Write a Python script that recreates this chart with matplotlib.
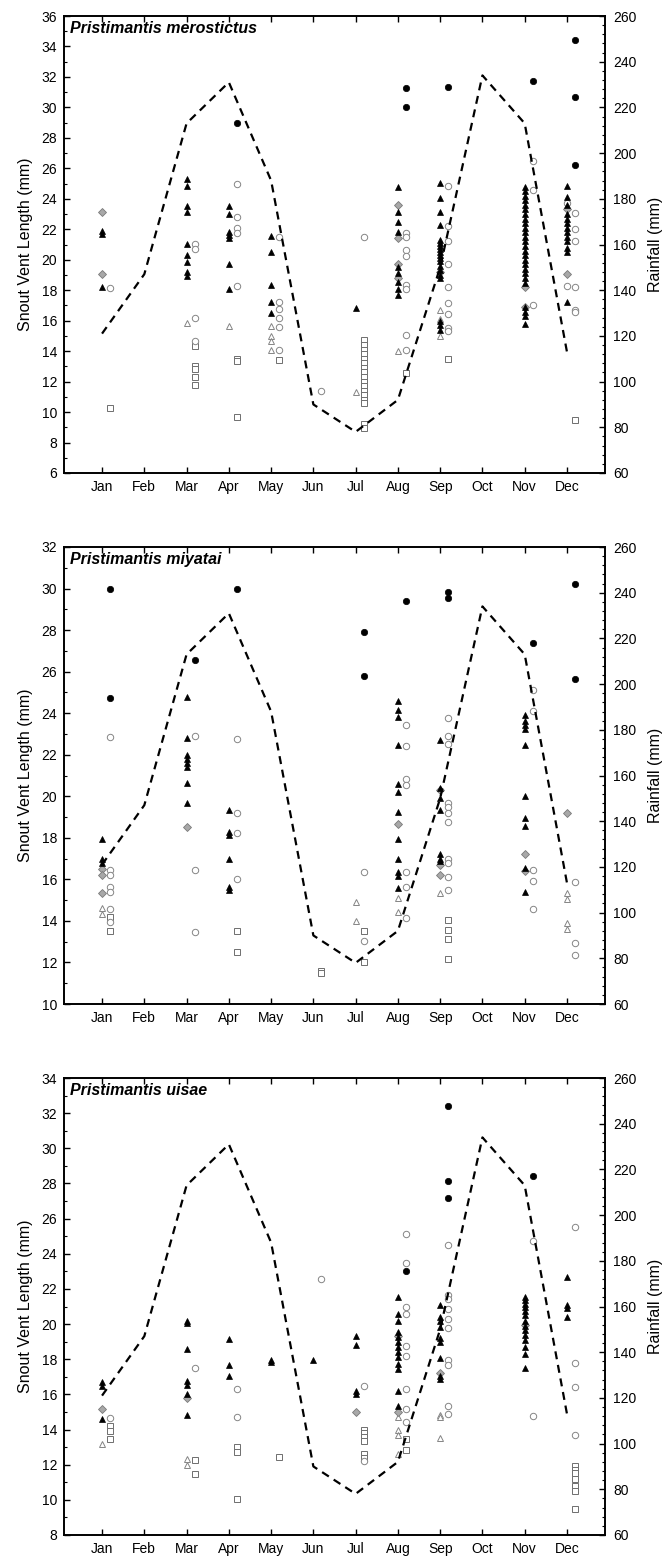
import numpy as np
import matplotlib.pyplot as plt
from matplotlib.ticker import MultipleLocator

plt.rcParams["font.family"] = ["Liberation Sans", "DejaVu Sans"]

# ======================================
# DATA
# ======================================

months = ["Jan", "Feb", "Mar", "Apr", "May", "Jun",
          "Jul", "Aug", "Sep", "Oct", "Nov", "Dec"]

# monthly rainfall (mm), same for all three panels
rain = [121, 147, 213, 231, 188, 90, 78, 92, 150, 234, 213, 113]

# ---- Pristimantis merostictus ----
mer_circle_f = {"Apr": [28.95], "Aug": [31.25, 30.0], "Sep": [31.35],
                "Nov": [31.75], "Dec": [34.4, 30.65, 26.25]}
mer_tri_f = {
    "Jan": [21.9, 21.7, 18.2],
    "Mar": [25.3, 24.85, 23.5, 23.15, 21.05, 20.3, 19.85, 19.2, 18.9],
    "Apr": [23.5, 23.0, 21.85, 21.6, 21.4, 19.7, 18.1],
    "May": [21.55, 20.5, 18.35, 17.25, 16.5],
    "Jul": [16.8],
    "Aug": [24.75, 23.15, 22.5, 21.85, 19.55, 19.1, 18.55, 18.1, 17.7],
    "Sep": [25.05, 24.05, 23.15, 22.3, 21.3, 21.1, 20.9, 20.7, 20.5, 20.3,
            20.1, 19.9, 19.6, 19.3, 19.0, 18.8, 16.0, 15.7, 15.4],
    "Nov": [24.8, 24.5, 24.2, 23.9, 23.6, 23.3, 23.0, 22.7, 22.4, 22.1,
            21.8, 21.5, 21.2, 20.9, 20.6, 20.3, 20.0, 19.7, 19.4, 19.1,
            18.8, 18.5, 16.9, 16.6, 16.3, 15.8],
    "Dec": [24.85, 24.15, 23.6, 23.0, 22.7, 22.4, 22.1, 21.8, 21.5, 21.2,
            20.8, 20.5, 17.2],
}
mer_diamond = {"Jan": [23.15, 19.05], "Aug": [23.6, 21.4, 19.75, 18.8],
               "Sep": [19.2], "Nov": [18.2, 16.9], "Dec": [23.3, 19.05]}
mer_circle_o = {
    "Jan": [18.15],
    "Mar": [21.05, 20.7, 16.15, 14.65],
    "Apr": [25.0, 22.8, 22.1, 21.75, 18.25],
    "May": [21.5, 17.25, 16.75, 16.15, 15.6, 14.05],
    "Jun": [11.4],
    "Jul": [21.5],
    "Aug": [21.75, 21.5, 20.65, 20.25, 18.35, 18.1, 15.05, 14.05],
    "Sep": [24.85, 22.2, 21.2, 19.75, 18.2, 17.15, 16.45, 15.5, 15.3],
    "Nov": [26.5, 24.55, 17.0],
    "Dec": [23.05, 22.0, 21.2, 18.2, 16.7, 16.55],
}
mer_circle_o_left = {"Dec": [23.75, 18.3]}
mer_tri_o = {"Mar": [15.85], "Apr": [15.65], "May": [15.65, 15.0, 14.65, 14.05],
             "Jul": [11.35], "Aug": [14.0], "Sep": [16.7, 16.1, 15.0]}
mer_square = {
    "Jan": [10.25],
    "Mar": [14.35, 13.0, 12.85, 12.3, 11.75],
    "Apr": [13.5, 13.35, 9.65],
    "May": [13.4],
    "Jul": [14.7, 14.4, 14.1, 13.8, 13.5, 13.2, 12.9, 12.6, 12.3, 12.0,
            11.7, 11.4, 11.1, 10.8, 10.6, 9.2, 8.95],
    "Aug": [12.55],
    "Sep": [13.5],
    "Dec": [9.5],
}

# ---- Pristimantis miyatai ----
miy_circle_f = {"Jan": [30.0, 24.75], "Mar": [26.55], "Apr": [30.0],
                "Jul": [27.9, 25.8], "Aug": [29.4], "Sep": [29.85, 29.55],
                "Nov": [27.4], "Dec": [30.2, 25.65]}
miy_tri_f = {
    "Jan": [17.95, 17.0, 16.8],
    "Mar": [24.8, 22.8, 22.0, 21.8, 21.6, 21.4, 20.65, 19.7],
    "Apr": [19.35, 18.3, 18.15, 17.0, 15.65, 15.5],
    "Aug": [24.6, 24.15, 23.8, 22.45, 20.6, 20.2, 19.25, 17.95, 17.0,
            16.35, 16.15, 15.6],
    "Sep": [22.7, 20.4, 19.9, 19.35, 17.2, 17.0, 16.9],
    "Nov": [23.9, 23.6, 23.45, 23.25, 22.45, 20.0, 18.95, 18.55, 16.55, 15.4],
}
miy_diamond = {"Jan": [16.5, 16.2, 15.35], "Mar": [18.5], "Aug": [18.65],
               "Sep": [20.3, 16.7, 16.2], "Nov": [17.2, 16.4], "Dec": [19.2]}
miy_circle_o = {
    "Jan": [22.85, 16.45, 16.2, 15.65, 15.4, 14.55, 13.95],
    "Mar": [22.9, 16.45, 13.45],
    "Apr": [22.75, 19.2, 18.25, 16.0],
    "Jul": [16.35, 13.05],
    "Aug": [23.45, 22.4, 20.85, 20.55, 16.35, 15.65, 14.15],
    "Sep": [23.75, 22.9, 22.5, 19.7, 19.5, 19.2, 18.75, 17.0, 16.8, 16.1, 15.5],
    "Nov": [25.1, 24.1, 16.45, 15.9, 14.55],
    "Dec": [15.85, 12.95, 12.35],
}
miy_circle_o_left = {}
miy_tri_o = {"Jan": [14.6, 14.35], "Jul": [14.9, 14.0], "Aug": [15.1, 14.45],
             "Sep": [15.35], "Dec": [15.35, 15.05, 13.9, 13.6]}
miy_square = {"Jan": [13.5, 14.2], "Apr": [13.5, 12.5], "Jun": [11.6, 11.5],
              "Jul": [13.5, 12.0], "Sep": [14.05, 13.55, 13.15, 12.15]}

# ---- Pristimantis uisae ----
uis_circle_f = {"Aug": [23.0], "Sep": [32.4, 28.15, 27.2], "Nov": [28.45]}
uis_tri_f = {
    "Jan": [16.7, 16.5, 14.6],
    "Mar": [20.2, 20.05, 18.6, 16.75, 16.55, 16.0, 14.85],
    "Apr": [19.15, 17.7, 17.05],
    "May": [17.95, 17.85],
    "Jun": [17.95],
    "Jul": [19.35, 18.8, 16.2, 16.0],
    "Aug": [21.55, 20.6, 20.15, 19.55, 19.25, 19.0, 18.7, 18.4, 18.1, 17.75,
            17.45, 16.2, 15.35],
    "Sep": [21.1, 20.4, 20.15, 19.85, 19.2, 19.0, 18.05, 17.05, 16.9],
    "Nov": [21.55, 21.35, 21.15, 20.95, 20.75, 20.5, 20.2, 19.9, 19.65,
            19.4, 19.1, 18.7, 18.3, 17.5],
    "Dec": [22.7, 21.1, 20.9, 20.4],
}
uis_diamond = {"Jan": [15.15], "Mar": [15.8], "Jul": [15.0],
               "Aug": [19.3, 15.0], "Sep": [17.2], "Nov": [19.95]}
uis_circle_o = {
    "Jan": [14.65],
    "Mar": [17.5],
    "Apr": [16.3, 14.7],
    "Jun": [22.55],
    "Jul": [16.5, 12.2],
    "Aug": [25.1, 23.5, 21.0, 20.55, 18.75, 18.2, 16.3, 15.15, 14.45],
    "Sep": [24.5, 21.65, 21.45, 20.85, 20.3, 19.75, 17.95, 17.65, 15.35, 14.9],
    "Nov": [24.75, 14.75],
    "Dec": [25.5, 17.8, 16.4, 13.7],
}
uis_circle_o_left = {}
uis_tri_o = {"Jan": [13.2], "Mar": [12.35, 12.0],
             "Aug": [14.7, 14.0, 13.7, 12.6], "Sep": [14.8, 14.7, 13.5]}
uis_square = {
    "Jan": [14.2, 13.9, 13.45],
    "Mar": [12.25, 11.45],
    "Apr": [13.0, 12.75, 10.05],
    "May": [12.45],
    "Jul": [14.0, 13.8, 13.55, 13.35, 12.6, 12.4],
    "Aug": [13.45, 12.85],
    "Dec": [11.9, 11.7, 11.5, 11.2, 10.8, 10.5, 9.5],
}

species = ["Pristimantis merostictus", "Pristimantis miyatai", "Pristimantis uisae"]
svl_limits = [(6, 36), (10, 32), (8, 34)]

panels = [
    (mer_circle_f, mer_tri_f, mer_diamond, mer_circle_o, mer_circle_o_left, mer_tri_o, mer_square),
    (miy_circle_f, miy_tri_f, miy_diamond, miy_circle_o, miy_circle_o_left, miy_tri_o, miy_square),
    (uis_circle_f, uis_tri_f, uis_diamond, uis_circle_o, uis_circle_o_left, uis_tri_o, uis_square),
]


def expand(series):
    x, y = [], []
    for m, vals in series.items():
        for v in vals:
            x.append(months.index(m) + 1)
            y.append(v)
    return np.array(x, dtype=float), np.array(y, dtype=float)


# ======================================
# FIGURE
# ======================================

W, H = 665, 1559
fig = plt.figure(figsize=(W / 100, H / 100), dpi=100)

ax_left, ax_right = 64, 605
tops = [16, 547, 1078]
panel_h = 457

right_off = 0.19
grey = "#858585"

styles = [
    # (marker, size, face, edge, lw, offset)
    ("o", 4.6, "black", "black", 0.5, right_off),
    ("^", 4.8, "black", "black", 0.5, 0.0),
    ("D", 4.2, "#a8a8a8", "#7a7a7a", 0.6, 0.0),
    ("o", 4.6, "white", grey, 0.7, right_off),
    ("o", 4.6, "white", grey, 0.7, 0.0),
    ("^", 4.8, "white", grey, 0.7, 0.0),
    ("s", 4.2, "white", "#6e6e6e", 0.7, right_off),
]
draw_order = [6, 5, 3, 4, 2, 1, 0]

for k in range(3):
    top = tops[k]
    rect = [ax_left / W, 1 - (top + panel_h) / H,
            (ax_right - ax_left) / W, panel_h / H]
    ax = fig.add_axes(rect)
    ax2 = ax.twinx()

    series_list = panels[k]
    for idx in draw_order:
        mk, ms, fc, ec, lw, off = styles[idx]
        x, y = expand(series_list[idx])
        if len(x) == 0:
            continue
        ax.plot(x + off, y, linestyle="none", marker=mk, markersize=ms,
                markerfacecolor=fc, markeredgecolor=ec, markeredgewidth=lw,
                zorder=3)

    ax2.plot(range(1, 13), rain, color="black", linewidth=1.6,
             linestyle=(0, (3.6, 2.6)), zorder=4)

    ax.set_xlim(0.1, 12.9)
    ax.set_xticks(range(1, 13))
    ax.set_xticklabels(months)
    ax.set_ylim(*svl_limits[k])
    ax.yaxis.set_major_locator(MultipleLocator(2))
    ax.yaxis.set_minor_locator(MultipleLocator(1))
    ax.tick_params(axis="both", which="major", direction="in", length=4,
                   width=1.0, labelsize=10, top=True, right=False, pad=5)
    ax.tick_params(axis="y", which="minor", direction="in", length=2,
                   width=0.8, right=False)

    ax2.set_ylim(60, 260)
    ax2.yaxis.set_major_locator(MultipleLocator(20))
    ax2.yaxis.set_minor_locator(MultipleLocator(4))
    ax2.tick_params(axis="y", which="major", direction="in", length=4,
                    width=1.0, labelsize=10, pad=6)
    ax2.tick_params(axis="y", which="minor", direction="in", length=2,
                    width=0.8)

    for a in (ax, ax2):
        for sp in a.spines.values():
            sp.set_linewidth(1.2)

    ax.set_ylabel("Snout Vent Length (mm)", fontsize=11.5, labelpad=6)
    ax2.set_ylabel("Rainfall (mm)", fontsize=11.5, labelpad=8)

    ax.text(0.012, 0.988, species[k], transform=ax.transAxes,
            ha="left", va="top", fontsize=11.5, fontweight="bold",
            fontstyle="italic")

fig.savefig("out.png", dpi=100)
